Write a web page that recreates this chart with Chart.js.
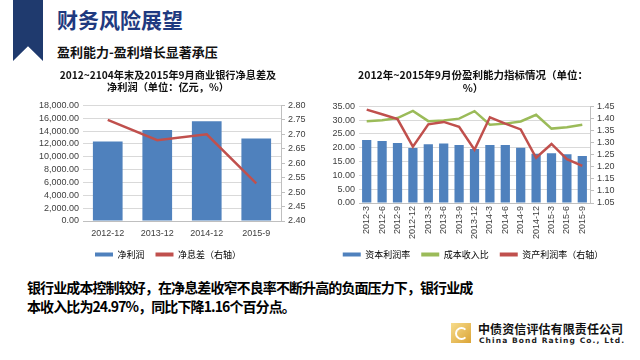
<!DOCTYPE html>
<html><head><meta charset="utf-8">
<script src="https://cdn.jsdelivr.net/npm/chart.js@4/dist/chart.umd.min.js"></script>
<style>
body{margin:0;width:640px;height:360px;background:#fff;position:relative;overflow:hidden;font-family:"Noto Sans CJK SC",sans-serif;}
.rib{position:absolute;left:13px;top:0;width:30px;height:61px;background:#1f3a6e;clip-path:polygon(0 0,100% 0,100% 100%,50% 76%,0 100%);}
.h1{position:absolute;left:57px;top:4px;font-size:21px;font-weight:bold;color:#1f3a80;line-height:30px;}
.h2{position:absolute;left:57px;top:43px;font-size:13px;font-weight:bold;color:#111;line-height:18px;}
.txt{position:absolute;left:27px;top:278px;font-size:14px;font-weight:bold;color:#000;line-height:19px;letter-spacing:-0.9px;}
.logo{position:absolute;left:451px;top:323px;width:20px;height:20px;background:linear-gradient(135deg,#f7dc8c,#dba436);}
.logo:after{content:"";position:absolute;left:4px;top:4px;width:9px;height:9px;border:2px solid #fff;border-right-color:transparent;border-radius:50%;}
.co{position:absolute;left:478px;top:321px;font-size:12px;font-weight:bold;color:#111;line-height:16px;letter-spacing:0.1px;}
.en{position:absolute;left:479px;top:336px;font-family:"DejaVu Sans",sans-serif;font-size:7.5px;font-weight:bold;color:#222;letter-spacing:1.1px;line-height:10px;}
canvas{position:absolute;}
</style></head>
<body>
<div class="rib"></div>
<div class="h1">财务风险展望</div>
<div class="h2">盈利能力-盈利增长显著承压</div>
<canvas id="c1" width="300" height="207" style="left:18px;top:62px"></canvas>
<canvas id="c2" width="300" height="207" style="left:323px;top:62px"></canvas>
<div class="txt">银行业成本控制较好，在净息差收窄不良率不断升高的负面压力下，银行业成<br>本收入比为24.97%，同比下降1.16个百分点。</div>
<div class="logo"></div>
<div class="co">中债资信评估有限责任公司</div>
<div class="en">China Bond Rating Co., Ltd.</div>
<script>
// Left chart data
const leftCats = ['2012-12','2013-12','2014-12','2015-9'];
const netProfit = [12386,14180,15548,12863];
const netInterestMargin = [2.75,2.68,2.70,2.53];
// Right chart data
const rightCats = ['2012-3','2012-6','2012-9','2012-12','2013-3','2013-6','2013-9','2013-12','2014-3','2014-6','2014-9','2014-12','2015-3','2015-6','2015-9'];
const roe = [22.8,22.4,21.7,19.9,21.2,21.5,21.0,19.5,21.0,21.0,20.0,17.8,18.0,17.6,17.0];
const costIncome = [29.6,29.9,30.7,33.3,29.6,29.8,30.5,33.2,28.3,28.7,29.5,31.9,26.9,27.4,28.3];
const roa = [1.436,1.417,1.397,1.283,1.375,1.385,1.365,1.27,1.404,1.378,1.354,1.237,1.294,1.231,1.203];

const BLUE='#4f81bd', RED='#c0504d', GREEN='#9bbb59';
const TICKFONT={family:'"Liberation Sans","Noto Sans CJK SC",sans-serif',size:9};
Chart.defaults.font.family='"Liberation Sans","Noto Sans CJK SC",sans-serif';
Chart.defaults.color='#404040';
Chart.defaults.animation=false;

function legendOpts(){
  return {position:'bottom',labels:{boxWidth:18,boxHeight:4,padding:11,font:{size:9,family:'"Noto Sans CJK SC",sans-serif'},color:'#404040',
    generateLabels(chart){
      return chart.data.datasets.map((ds,i)=>({text:ds.label,fillStyle:ds.type==='line'?ds.borderColor:ds.backgroundColor,strokeStyle:'transparent',lineWidth:0,datasetIndex:i,hidden:false}));
    }}};
}
function titleOpts(lines,size){
  return {display:true,text:lines,font:{size:size,weight:'bold',family:'"Noto Sans CJK SC",sans-serif'},color:'#111',lineHeight:1.25,padding:{top:7,bottom:12}};
}
const fmt2=v=>Number(v).toFixed(2);
const fmtK=v=>Number(v).toLocaleString('en-US',{minimumFractionDigits:2,maximumFractionDigits:2});

new Chart(document.getElementById('c1'),{
  data:{labels:leftCats,datasets:[
    {type:'line',label:'净息差（右轴）',data:netInterestMargin,borderColor:RED,backgroundColor:RED,borderWidth:2.5,pointRadius:0,yAxisID:'y1',order:0},
    {type:'bar',label:'净利润',data:netProfit,backgroundColor:BLUE,barPercentage:0.6,categoryPercentage:1,yAxisID:'y',order:1}
  ]},
  options:{responsive:false,layout:{padding:0},
    plugins:{title:titleOpts(['2012~2104年末及2015年9月商业银行净息差及','净利润（单位：亿元，%）'],10.2),legend:Object.assign(legendOpts(),{reverse:true}),tooltip:{enabled:false}},
    scales:{
      x:{grid:{display:false,drawTicks:false,tickLength:0},border:{display:true,color:'#bfbfbf'},ticks:{font:TICKFONT,padding:7,maxRotation:0},afterFit(s){s.height=18;}},
      y:{position:'left',min:0,max:18000,ticks:{stepSize:2000,autoSkip:false,callback:fmtK,font:TICKFONT,padding:4},grid:{color:'#d9d9d9',drawTicks:false},border:{display:false},afterFit(s){s.width=65;}},
      y1:{position:'right',min:2.40,max:2.80,ticks:{stepSize:0.05,autoSkip:false,callback:fmt2,font:TICKFONT,padding:3},grid:{drawOnChartArea:false,color:'#bfbfbf',tickLength:4},border:{display:true,color:'#bfbfbf'},afterFit(s){s.width=37;}}
    }}
});

new Chart(document.getElementById('c2'),{
  data:{labels:rightCats,datasets:[
    {type:'bar',label:'资本利润率',data:roe,backgroundColor:BLUE,barPercentage:0.6,categoryPercentage:1,yAxisID:'y',order:2},
    {type:'line',label:'成本收入比',data:costIncome,borderColor:GREEN,backgroundColor:GREEN,borderWidth:2.5,pointRadius:0,yAxisID:'y',order:1},
    {type:'line',label:'资产利润率（右轴）',data:roa,borderColor:RED,backgroundColor:RED,borderWidth:2.5,pointRadius:0,yAxisID:'y1',order:0}
  ]},
  options:{responsive:false,layout:{padding:0},
    plugins:{title:titleOpts(['2012年~2015年9月份盈利能力指标情况（单位：','%）'],10.5),legend:legendOpts(),tooltip:{enabled:false}},
    scales:{
      x:{grid:{display:false,drawTicks:false,tickLength:0},border:{display:true,color:'#bfbfbf'},ticks:{font:TICKFONT,padding:3,minRotation:90,maxRotation:90,autoSkip:false},afterFit(s){s.height=36;}},
      y:{position:'left',min:0,max:35,ticks:{stepSize:5,autoSkip:false,callback:fmt2,font:TICKFONT,padding:4},grid:{color:'#d9d9d9',drawTicks:false},border:{display:false},afterFit(s){s.width=36;}},
      y1:{position:'right',min:1.05,max:1.45,ticks:{stepSize:0.05,autoSkip:false,callback:fmt2,font:TICKFONT,padding:3},grid:{drawOnChartArea:false,color:'#bfbfbf',tickLength:4},border:{display:true,color:'#bfbfbf'},afterFit(s){s.width=33;}}
    }}
});
</script>
</body></html>
